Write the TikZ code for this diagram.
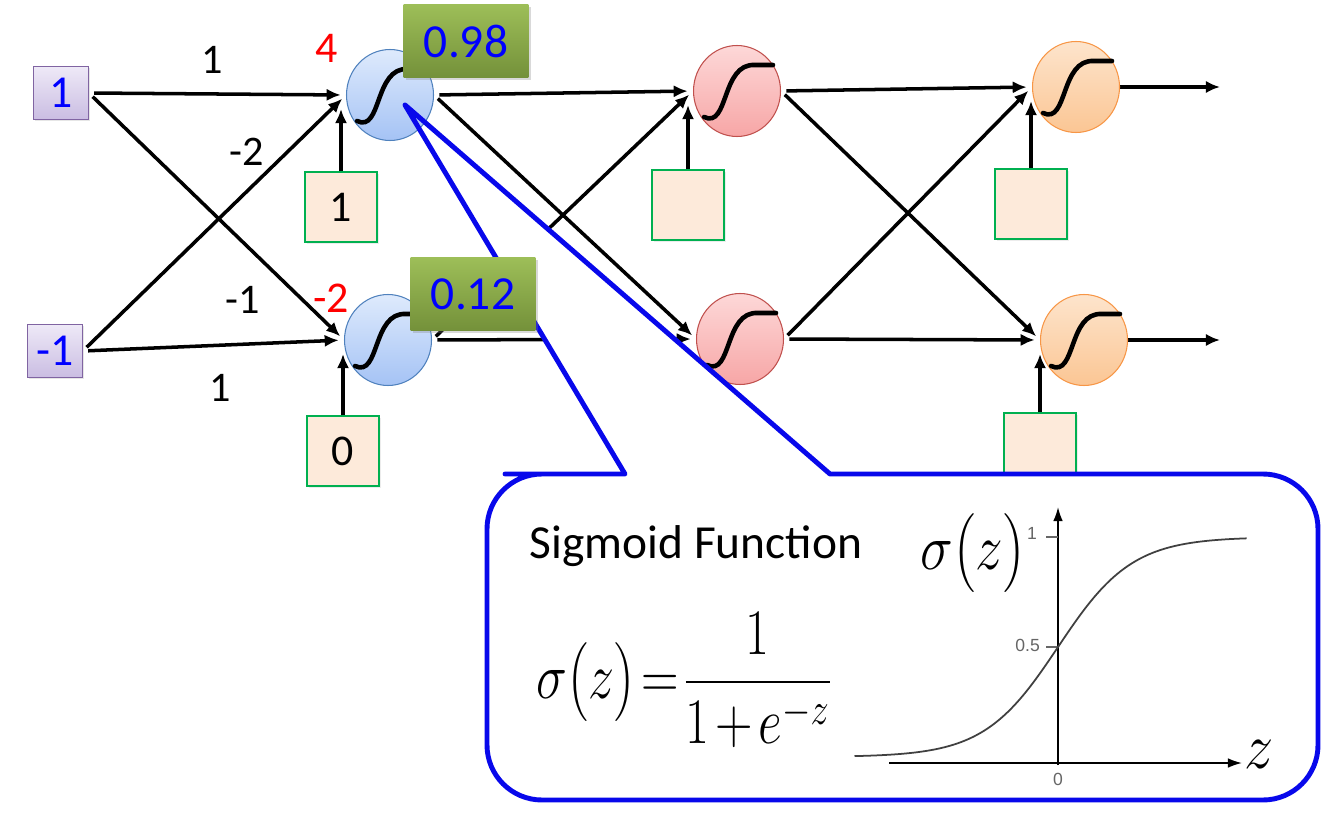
\RequirePackage{fix-cm}
\documentclass[tikz,border=0pt]{standalone}
\usepackage{amsmath}
\usepackage{graphicx}
\usepackage[no-math]{fontspec}
\setmainfont{Carlito}
\newfontfamily\plotfont{Liberation Sans}
\usepackage{tikz}
\usetikzlibrary{positioning,shapes.geometric,arrows.meta,shadows}

\definecolor{inTop}{RGB}{238,233,247}
\definecolor{inBot}{RGB}{202,189,226}
\definecolor{inDraw}{RGB}{128,100,162}
\definecolor{hTop}{RGB}{222,234,252}
\definecolor{hBot}{RGB}{165,195,245}
\definecolor{hDraw}{RGB}{79,129,189}
\definecolor{gTop}{RGB}{253,216,216}
\definecolor{gBot}{RGB}{247,166,166}
\definecolor{gDraw}{RGB}{192,80,77}
\definecolor{oTop}{RGB}{253,228,204}
\definecolor{oBot}{RGB}{251,198,148}
\definecolor{oDraw}{RGB}{247,150,70}
\definecolor{biasFill}{RGB}{253,234,218}
\definecolor{biasDraw}{RGB}{0,176,80}
\definecolor{vTop}{RGB}{157,190,88}
\definecolor{vBot}{RGB}{116,145,58}
\definecolor{callBlue}{RGB}{8,8,235}

\pgfdeclarelayer{back}
\pgfsetlayers{back,main}

\begin{document}
\begin{tikzpicture}[x=0.02cm,y=-0.02cm,
        inbox/.style={draw=inDraw,top color=inTop,bottom color=inBot,minimum width=1.1cm,minimum height=1.06cm,inner sep=0pt,
            text=blue,font=\fontsize{26}{30}\selectfont,drop shadow={opacity=0.2,shadow xshift=1pt,shadow yshift=-1pt}},
        neuron/.style={ellipse,minimum width=1.74cm,minimum height=1.82cm,inner sep=0pt,line width=0.6pt},
        hid/.style={neuron,draw=hDraw,top color=hTop,bottom color=hBot},
        mid/.style={neuron,draw=gDraw,top color=gTop,bottom color=gBot},
        outn/.style={neuron,draw=oDraw,top color=oTop,bottom color=oBot},
        bias/.style={draw=biasDraw,fill=biasFill,line width=0.8pt,minimum width=1.44cm,minimum height=1.4cm,inner sep=0pt,
            font=\fontsize{25}{30}\selectfont,drop shadow={opacity=0.15,shadow xshift=1pt,shadow yshift=-1pt}},
        val/.style={top color=vTop,bottom color=vBot,minimum width=2.5cm,minimum height=1.45cm,inner sep=0pt,text=blue,
            font=\fontsize{27}{32}\selectfont,drop shadow={opacity=0.3,shadow xshift=1.5pt,shadow yshift=-1.5pt}},
        wlab/.style={font=\fontsize{24}{28}\selectfont},
        sumlab/.style={font=\fontsize{25}{30}\selectfont,text=red},
        arr/.style={-{Latex[length=8pt,width=7pt]},line width=2pt,shorten <=3pt,shorten >=3pt},
        sig/.style={line width=2.6pt,line cap=round},
        callout/.style={draw=callBlue,line width=2.8pt,line join=round},
        axis/.style={-{Latex[length=8pt,width=5.5pt]},line width=1pt},
        ticklab/.style={font=\plotfont\fontsize{10}{12}\selectfont,text=black!60},
        bigmath/.style={font=\fontsize{37}{44}\selectfont},
    ]
    \useasboundingbox (0,0) rectangle (1334,814);

    \node[inbox] (x1) at (61,93) {1};
    \node[inbox] (x2) at (55,351) {-1};

    \node[hid] (h1) at (390,95) {};
    \node[hid] (h2) at (388,340) {};
    \node[mid] (g1) at (737,91) {};
    \node[mid] (g2) at (740,339) {};
    \node[outn] (o1) at (1076,87) {};
    \node[outn] (o2) at (1084,340) {};

    \foreach \n in {h1,h2,g1,g2,o1,o2}
        \draw[sig] ([shift={(-33,26)}]\n.center) .. controls ([shift={(-8,38)}]\n.center) and ([shift={(-16,-28)}]\n.center) .. ([shift={(18,-26)}]\n.center) -- ([shift={(36,-26)}]\n.center);

    \path[save path=\callpath] (560,474) -- (625,474) -- (405,105) -- (830,474) -- (900,474)
        [rounded corners=1.1cm] -- (1318,474) -- (1318,800) -- (487,800) -- (487,474) -- cycle;

    \begin{pgfonlayer}{back}
        \node[bias] (b1) at (341,207) {1};
        \node[bias] (b2) at (343,451) {0};
        \node[bias] (b3) at (688,205) {};
        \node[bias] (b4) at (1031,204) {};
        \node[bias] (b5) at (1040,448) {};
        \coordinate (y1) at (1220,87);
        \coordinate (y2) at (1220,340);

        \foreach \a in {x1,x2} \foreach \b in {h1,h2} \draw[arr] (\a.east) -- (\b.west);
        \foreach \a in {h1,h2} \foreach \b in {g1,g2} \draw[arr] (\a.east) -- (\b.west);
        \foreach \a in {g1,g2} \foreach \b in {o1,o2} \draw[arr] (\a.east) -- (\b.west);
        \foreach \b/\n in {b1/h1,b2/h2,b3/g1,b4/o1,b5/o2}
            \draw[arr,shorten <=0pt,shorten >=0pt] (\b.north) -- ([yshift=-8pt]\b.north |- \n.west);
        \draw[arr,shorten <=0pt,shorten >=0pt] (o1.east) -- (y1);
        \draw[arr,shorten <=0pt,shorten >=0pt] (o2.east) -- (y2);

        % white inside of the zoom bubble hides the links behind it
        \fill[white,use path=\callpath];
    \end{pgfonlayer}

    \draw[callout,use path=\callpath];

    \node[val] (v1) at (466,41) {0.98};
    \node[val] (v2) at (473,294) {0.12};

    \node[wlab] (w11) at (212,60) {1};
    \node[wlab] (w21) at (247,152) {-2};
    \node[wlab] (w12) at (243,300) {-1};
    \node[wlab] (w22) at (220,388) {1};
    \node[sumlab] (s1) at (327,48) {4};
    \node[sumlab] (s2) at (331,298) {-2};

    \node[font=\fontsize{27}{32}\selectfont] (title) at (696,546) {Sigmoid Function};
    \node[bigmath] (formula) at (684,680)
        {\scalebox{0.8}[1]{$\sigma\big(z\big)\mskip2mu{=}\mskip2mu\dfrac{1}{1\mskip2mu{+}\mskip2mu e^{-z}}$}};

    % small plot of the curve
    \coordinate (za) at (889,763);
    \coordinate (zb) at (1242,763);
    \coordinate (sa) at (1058,765);
    \coordinate (sb) at (1058,507);
    \draw[axis] (za) -- (zb);
    \draw[axis] (sa) -- (sb);
    \draw[line width=0.6pt,black!60] (1046,647) -- (1058,647);
    \draw[line width=0.6pt,black!60] (1046,537) -- (1058,537);
    \draw[line width=1pt,black!75] plot[smooth,domain=-5.5:5.1,samples=60] ({1058+37*\x},{757-220/(1+exp(-\x))});
    \node[ticklab] (t0) at (1058,779) {0};
    \node[ticklab,anchor=east] (t05) at (1046,645) {0.5};
    \node[ticklab,anchor=east] (t1) at (1043,533) {1};
    \node[bigmath] (sz) at (973,553) {\scalebox{0.85}[1]{$\sigma\big(z\big)$}};
    \node[bigmath] (zl) at (1259,754) {\scalebox{0.9}[1]{$z$}};
\end{tikzpicture}
\end{document}
